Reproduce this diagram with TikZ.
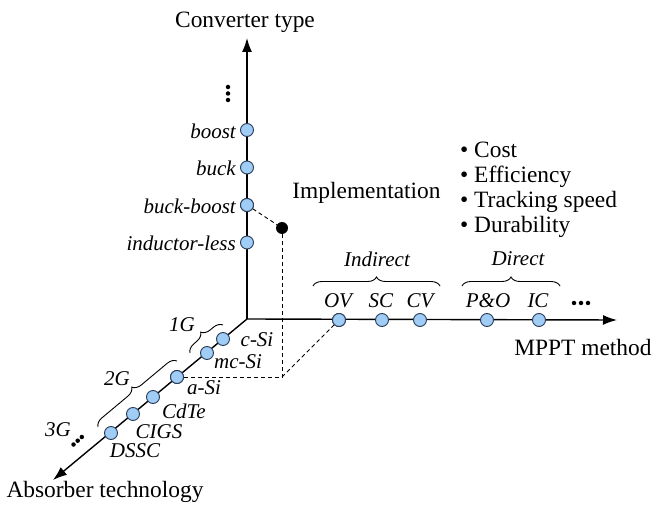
\documentclass[tikz,border=0pt]{standalone}
\usepackage{fontspec}
\setmainfont{Liberation Serif}
\usetikzlibrary{arrows.meta,decorations.pathreplacing}
\definecolor{dotfill}{RGB}{160,205,245}
\definecolor{dotline}{RGB}{40,60,90}
\begin{document}
\begin{tikzpicture}[x=1pt,y=-1pt,
  axis/.style={line width=1.4pt,-{Latex[length=14pt,width=10pt]}},
  pt/.style={circle,draw=dotline,line width=0.9pt,fill=dotfill,minimum size=13pt,inner sep=0pt},
  lbl/.style={font=\fontsize{21}{24}\selectfont\itshape,inner sep=0pt},
  txt/.style={font=\fontsize{23.4}{27}\selectfont,inner sep=0pt},
  dsh/.style={line width=0.9pt,dash pattern=on 4pt off 3pt},
  brc/.style={line width=0.9pt,decorate,decoration={brace,amplitude=9pt}},
  smalldot/.style={circle,fill=black,minimum size=4.5pt,inner sep=0pt}]
\useasboundingbox (0,0) rectangle (654,505);
% axes
\coordinate (O) at (247,319);
\coordinate (Ytip) at (247,38);
\coordinate (Xtip) at (617,320);
\coordinate (Ztip) at (53,480);
\draw[axis] (O) -- (Ytip);
\draw[axis] (O) -- (Xtip);
\draw[axis] (O) -- (Ztip);
\node[txt] (ylab) at (245,22) {Converter type};
\node[txt] (xlab) at (583,347) {MPPT method};
\node[txt] (zlab) at (105,492) {Absorber technology};
% dashed construction
\node[pt] (bb) at (247,205) {};
\node[circle,fill=black,minimum size=12pt,inner sep=0pt] (impl) at (282,228) {};
\coordinate (corner) at (282,377);
\node[pt] (asi) at (177,377) {};
\node[pt] (ov) at (339,320) {};
\draw[dsh] (bb) -- (impl);
\draw[dsh] (impl) -- (corner);
\draw[dsh] (asi) -- (corner);
\draw[dsh] (corner) -- (ov);
% vertical axis points
\node[pt] (boost) at (247,130) {};
\node[pt] (buck) at (247,167.5) {};
\node[pt] (il) at (247,242.5) {};
\node[pt] (bb2) at (247,205) {};
\node[lbl,anchor=east] (lboost) at (236,131) {boost};
\node[lbl,anchor=east] (lbuck) at (236,168.5) {buck};
\node[lbl,anchor=east] (lbb) at (236,206) {buck-boost};
\node[lbl,anchor=east] (lil) at (236,243.5) {inductor-less};
\node[smalldot] (v1) at (228,87) {};
\node[smalldot] (v2) at (228,93.5) {};
\node[smalldot] (v3) at (228,100) {};
% horizontal axis points
\node[pt] (ov2) at (339,320) {};
\node[pt] (sc) at (382,320) {};
\node[pt] (cv) at (420,320) {};
\node[pt] (po) at (487,320) {};
\node[pt] (ic) at (539,320) {};
\node[lbl] (lov) at (338,301) {OV};
\node[lbl] (lsc) at (381,301) {SC};
\node[lbl] (lcv) at (420,301) {CV};
\node[lbl] (lpo) at (488,301) {P\&O};
\node[lbl] (lic) at (538,301) {IC};
\node[smalldot] (h1) at (574,303) {};
\node[smalldot] (h2) at (581,303) {};
\node[smalldot] (h3) at (588,303) {};
\coordinate (ib1) at (313,286);
\coordinate (ib2) at (440,286);
\coordinate (db1) at (462,286);
\coordinate (db2) at (560,286);
\draw[brc] (ib1) -- (ib2);
\draw[brc] (db1) -- (db2);
\node[lbl] (lind) at (377,259) {Indirect};
\node[lbl] (ldir) at (518,259) {Direct};
% diagonal axis points
\node[pt] (csi) at (223,339) {};
\node[pt] (mcsi) at (207,353) {};
\node[pt] (asi2) at (177,377) {};
\node[pt] (cdte) at (153,397) {};
\node[pt] (cigs) at (133,414) {};
\node[pt] (dssc) at (111,433) {};
\node[lbl] (lcsi) at (257,340) {c-Si};
\node[lbl] (lmcsi) at (238,362) {mc-Si};
\node[lbl] (lasi) at (204,388) {a-Si};
\node[lbl] (lcdte) at (184,411) {CdTe};
\node[lbl] (lcigs) at (159,432) {CIGS};
\node[lbl] (ldssc) at (135,451) {DSSC};
\coordinate (g1a) at (190,353);
\coordinate (g1b) at (223,325);
\coordinate (g2a) at (98,427);
\coordinate (g2b) at (177,361);
\draw[brc] (g1a) -- (g1b);
\draw[brc] (g2a) -- (g2b);
\node[lbl] (l1g) at (182,325) {1G};
\node[lbl] (l2g) at (117,379) {2G};
\node[lbl] (l3g) at (58,430) {3G};
\node[smalldot] (d1) at (73.5,444.5) {};
\node[smalldot] (d2) at (77.7,440.7) {};
\node[smalldot] (d3) at (81.8,437) {};
% implementation text
\node[txt] (implab) at (366.5,193) {Implementation};
\node[txt,anchor=west] (b1) at (460,150) {\textbullet\ Cost};
\node[txt,anchor=west] (b2) at (460,176.5) {\textbullet\ Efficiency};
\node[txt,anchor=west] (b3) at (460,202) {\textbullet\ Tracking speed};
\node[txt,anchor=west] (b4) at (460,227) {\textbullet\ Durability};
\end{tikzpicture}
\end{document}
